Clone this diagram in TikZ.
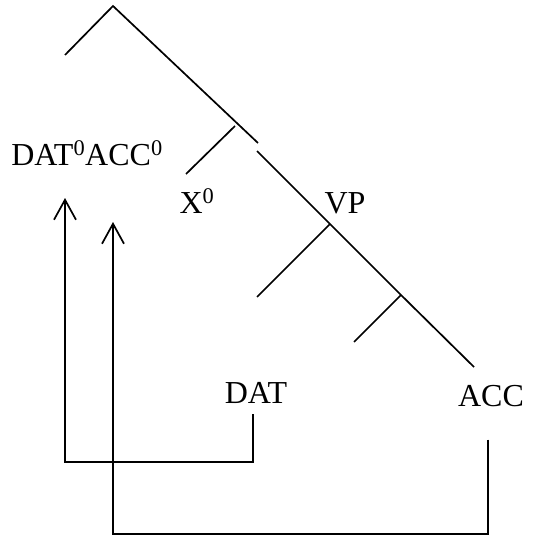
\documentclass[tikz,border=0pt]{standalone}
\usepackage{fontspec}
\setmainfont{Liberation Serif}
\usetikzlibrary{positioning}
\usetikzlibrary{arrows.meta}
\tikzset{
	lbl/.style={
		inner sep=0pt,
		anchor=base,
		font=\fontsize{32}{38}\selectfont
	},
	branch/.style={
		line width=1.7pt
	},
	trace/.style={
		line width=1.7pt,
		-{Straight Barb[length=20pt,width=22pt]}
	}
}

\begin{document}
\begin{tikzpicture}[x=1pt,y=-1pt]
				\useasboundingbox (0,0) rectangle (533,535);
				% tree points
				\coordinate (top) at (113,6);
				\coordinate (topl) at (65,55);
				\coordinate (xbar) at (258,143);
				\coordinate (xjoin) at (235,126);
				\coordinate (xleaf) at (186,174);
				\coordinate (vtop) at (257,151);
				\coordinate (vp) at (330,224);
				\coordinate (vpl) at (257,297);
				\coordinate (vbar) at (401,295);
				\coordinate (vbarl) at (354,342);
				\coordinate (acc) at (474,367);
				
				\node[lbl] (Head) at (87,165) {DAT\textsuperscript{0}ACC\textsuperscript{0}};
				\node[lbl] (X) at (197,213) {X\textsuperscript{0}};
				\node[lbl] (VP) at (345,213) {VP};
				\node[lbl] (DAT) at (256,403) {DAT};
				\node[lbl] (ACC) at (491,406) {ACC};
				
				\draw[branch] (topl) -- (top) -- (xbar);
				\draw[branch] (xjoin) -- (xleaf);
				\draw[branch] (vtop) -- (vp) -- (vbar) -- (acc);
				\draw[branch] (vp) -- (vpl);
				\draw[branch] (vbar) -- (vbarl);
				
				% movement traces
				\coordinate (dattip) at (65,198);
				\coordinate (datlow) at (65,462);
				\coordinate (acctip) at (113,222);
				\coordinate (acclow) at (113,534);
				\draw[trace] ([xshift=-3pt,yshift=-11pt]DAT.south) |- (datlow) -- (dattip);
				\draw[trace] ([xshift=-3pt,yshift=-33pt]ACC.south) |- (acclow) -- (acctip);
			\end{tikzpicture}
\end{document}
